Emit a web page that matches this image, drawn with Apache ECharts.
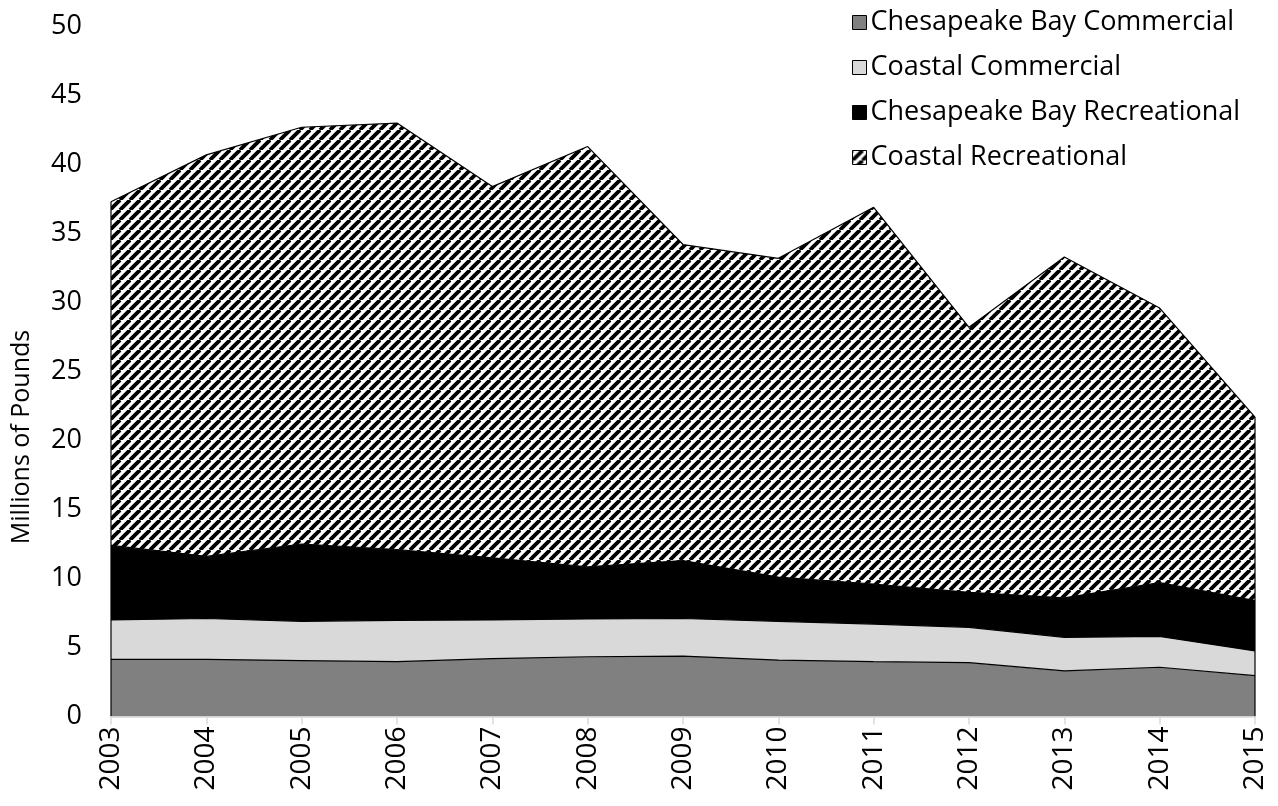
<!DOCTYPE html>
<html>
<head>
<meta charset="utf-8">
<script src="https://cdn.jsdelivr.net/npm/echarts@6/dist/echarts.min.js"></script>
<style>
html,body{margin:0;padding:0;background:#fff;}
#chart{width:1278px;height:806px;}
</style>
</head>
<body>
<div id="chart"></div>
<script>
const years = ['2003','2004','2005','2006','2007','2008','2009','2010','2011','2012','2013','2014','2015'];
const chesapeakeCommercial = [4.14,4.14,4.05,3.97,4.2,4.33,4.38,4.09,3.97,3.9,3.3,3.57,2.96];
const coastalCommercial   = [2.86,2.96,2.85,3.0,2.8,2.74,2.72,2.81,2.73,2.56,2.44,2.23,1.79];
const chesapeakeRecreational = [5.4,4.5,5.6,5.13,4.5,3.78,4.2,3.2,2.9,2.54,2.86,3.9,3.65];
const coastalRecreational = [24.9,29.1,30.2,30.9,26.9,30.45,22.9,23.1,27.3,19.2,24.7,19.9,13.3];
const yTicks = [0,5,10,15,20,25,30,35,40,45,50];
const yTitle = 'Millions of Pounds';

const FONT = '"Open Sans", sans-serif';

function hatch() {
  const p = 10;
  const c = document.createElement('canvas');
  c.width = p; c.height = p;
  const ctx = c.getContext('2d');
  ctx.fillStyle = '#fff';
  ctx.fillRect(0,0,p,p);
  ctx.strokeStyle = '#000';
  ctx.lineWidth = 3.8;
  for (let k = -1; k <= 1; k++) {
    ctx.beginPath();
    ctx.moveTo(k*p, p);
    ctx.lineTo(k*p + p, 0);
    ctx.stroke();
  }
  return c;
}
const hatchPattern = { image: hatch(), repeat: 'repeat' };

const totals = years.map((_, i) => chesapeakeCommercial[i] + coastalCommercial[i] + chesapeakeRecreational[i] + coastalRecreational[i]);
const first = 0, last = years.length - 1;

function areaSeries(name, data, fill) {
  return {
    name, type: 'line', stack: 'total', data,
    symbol: 'none', smooth: false,
    lineStyle: { color: '#000', width: 1.2 },
    itemStyle: { color: fill, borderColor: '#000', borderWidth: 1 },
    areaStyle: { color: fill, opacity: 1 },
    emphasis: { disabled: true },
    z: 2
  };
}
function edgeSeries(idx) {
  return {
    type: 'line', silent: true, symbol: 'none',
    data: [[years[idx], 0], [years[idx], totals[idx]]],
    lineStyle: { color: '#000', width: 1.2 },
    z: 3
  };
}

const chart = echarts.init(document.getElementById('chart'));
chart.setOption({
  animation: false,
  backgroundColor: '#fff',
  grid: { left: 111, right: 23, top: 26.5, bottom: 89.5, containLabel: false },
  legend: {
    orient: 'vertical', left: 852, top: 8.5, padding: 0,
    itemWidth: 14, itemHeight: 14, itemGap: 17,
    icon: 'rect',
    data: ['Chesapeake Bay Commercial','Coastal Commercial','Chesapeake Bay Recreational','Coastal Recreational'],
    textStyle: { fontFamily: FONT, fontSize: 27, lineHeight: 28, color: '#000', padding: [0,0,0,-1] },
    itemStyle: { borderColor: '#000', borderWidth: 1 }
  },
  graphic: [{
    type: 'text', x: 22, y: 437, rotation: Math.PI / 2,
    style: { text: yTitle, fontFamily: FONT, fontSize: 25, fill: '#000', align: 'center', verticalAlign: 'middle' }
  }],
  xAxis: {
    type: 'category', data: years, boundaryGap: false,
    axisLine: { show: true, lineStyle: { color: '#d9d9d9', width: 1.5 } },
    axisTick: { show: true, length: 8, lineStyle: { color: '#d9d9d9', width: 1.5 } },
    axisLabel: { rotate: 90, fontFamily: FONT, fontSize: 28, color: '#000', margin: 10 },
    splitLine: { show: false },
    z: 5
  },
  yAxis: {
    type: 'value', min: yTicks[0], max: yTicks[yTicks.length-1], interval: 5,
    axisLine: { show: false }, axisTick: { show: false },
    axisLabel: { fontFamily: FONT, fontSize: 27, color: '#000', margin: 29 },
    splitLine: { show: false }
  },
  series: [
    areaSeries('Chesapeake Bay Commercial', chesapeakeCommercial, '#808080'),
    areaSeries('Coastal Commercial', coastalCommercial, '#d9d9d9'),
    areaSeries('Chesapeake Bay Recreational', chesapeakeRecreational, '#000000'),
    areaSeries('Coastal Recreational', coastalRecreational, hatchPattern),
    edgeSeries(first),
    edgeSeries(last)
  ]
});
</script>
</body>
</html>
